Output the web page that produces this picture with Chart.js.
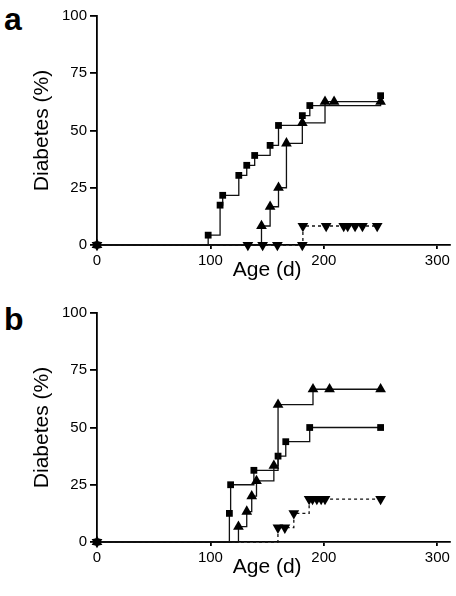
<!DOCTYPE html>
<html>
<head>
<meta charset="utf-8">
<script src="https://cdn.jsdelivr.net/npm/chart.js@4.4.0/dist/chart.umd.min.js"></script>
<style>
  body { margin: 0; background: #fff; }
  .panel { position: absolute; left: 0; width: 456px; height: 296px; }
  .tag { position: absolute; left: 4px; font: bold 32px "Liberation Sans", Arial, sans-serif; color: #000; }
</style>
</head>
<body>
<div class="tag" style="top:1px">a</div>
<div class="tag" style="top:301px">b</div>
<div class="panel" style="top:0"><canvas id="chartA"></canvas></div>
<div class="panel" style="top:297px"><canvas id="chartB"></canvas></div>
<script>
// panel a
const aSquareAge = [0, 98, 108.5, 110.8, 125, 132, 139, 152.6, 160, 181, 187.6, 250];
const aSquarePct = [0, 4.3, 17.4, 21.7, 30.4, 34.8, 39.1, 43.5, 52.2, 56.5, 60.9, 65.2];
const aTriAge = [0, 145, 152.6, 160, 167, 181, 201, 209, 250];
const aTriPct = [0, 8.3, 16.7, 25, 44.4, 53.3, 62.6, 62.6, 62.6];
const aInvAge = [0, 133, 146, 159, 181, 181.5, 202, 217.5, 221, 227.5, 234, 247];
const aInvPct = [0, 0, 0, 0, 0, 8.3, 8.3, 8.3, 8.3, 8.3, 8.3, 8.3];

// panel b
const bSquareAge = [0, 116.7, 117.8, 138.3, 159.6, 166.4, 187.5, 250];
const bSquarePct = [0, 12.5, 25, 31.3, 37.5, 43.8, 50, 50];
const bTriAge = [0, 124.7, 132, 136.4, 140.6, 155.9, 159.6, 190.4, 205, 250];
const bTriPct = [0, 6.7, 13.3, 20, 26.7, 33.3, 60, 66.7, 66.7, 66.7];
const bInvAge = [0, 159.5, 165.6, 173.5, 187, 190, 193.8, 197.6, 201, 250];
const bInvPct = [0, 6.25, 6.25, 12.5, 18.75, 18.75, 18.75, 18.75, 18.75, 18.75];

const xTicks = [0, 100, 200, 300];
const yTicks = [0, 25, 50, 75, 100];
const xTitle = "Age (d)";
const yTitle = "Diabetes (%)";

const pts = (xs, ys) => xs.map((x, i) => ({ x: x, y: ys[i] }));

// x-axis title, centred under the 0-300 range like the original
const ageTitle = {
  id: "ageTitle",
  afterDraw(chart) {
    const { ctx, chartArea, scales } = chart;
    ctx.save();
    ctx.font = '21px "Liberation Sans", Arial, sans-serif';
    ctx.fillStyle = "#000";
    ctx.textAlign = "center";
    ctx.textBaseline = "middle";
    ctx.fillText(xTitle, scales.x.getPixelForValue(150), chartArea.bottom + 25);
    ctx.restore();
  },
};

function series(data, shape, rotation, dashed) {
  return {
    data: data,
    stepped: true,
    borderColor: "#111",
    borderWidth: 1.3,
    borderDash: dashed ? [3, 3] : [],
    pointStyle: shape,
    pointRotation: rotation,
    pointRadius: shape === "rect" ? 4.8 : 6.2,
    pointBackgroundColor: "#000",
    pointBorderColor: "#000",
    pointBorderWidth: 0,
    clip: false,
    fill: false,
  };
}

function makeChart(id, sq, tri, inv) {
  const tickFont = { family: '"Liberation Sans", Arial, sans-serif', size: 15 };
  new Chart(document.getElementById(id), {
    type: "line",
    data: {
      datasets: [
        series(inv, "triangle", 180, true),
        series(tri, "triangle", 0, false),
        series(sq, "rect", 0, false),
      ],
    },
    plugins: [ageTitle],
    options: {
      responsive: true,
      maintainAspectRatio: false,
      animation: false,
      layout: { padding: { top: 16, right: 3, left: 0, bottom: 0 } },
      plugins: { legend: { display: false }, tooltip: { enabled: false } },
      scales: {
        x: {
          type: "linear",
          min: 0,
          max: 311,
          afterBuildTicks: (s) => { s.ticks = xTicks.map((v) => ({ value: v })); },
          afterFit: (s) => { s.height = 51; },
          grid: { drawOnChartArea: false, tickLength: 4, color: "#000", lineWidth: 1.8 },
          border: { color: "#000", width: 1.8 },
          ticks: { color: "#000", font: tickFont, padding: 3, maxRotation: 0 },
        },
        y: {
          min: 0,
          max: 100,
          afterBuildTicks: (s) => { s.ticks = yTicks.map((v) => ({ value: v })); },
          afterFit: (s) => { s.width = 97; },
          grid: { drawOnChartArea: false, tickLength: 7, color: "#000", lineWidth: 1.8 },
          border: { color: "#000", width: 1.8 },
          ticks: { color: "#000", font: tickFont, padding: 3 },
          title: {
            display: true,
            text: yTitle,
            color: "#000",
            font: { family: '"Liberation Sans", Arial, sans-serif', size: 21 },
            padding: { top: 30, bottom: 0 },
          },
        },
      },
    },
  });
}

makeChart("chartA", pts(aSquareAge, aSquarePct), pts(aTriAge, aTriPct), pts(aInvAge, aInvPct));
makeChart("chartB", pts(bSquareAge, bSquarePct), pts(bTriAge, bTriPct), pts(bInvAge, bInvPct));
</script>
</body>
</html>
